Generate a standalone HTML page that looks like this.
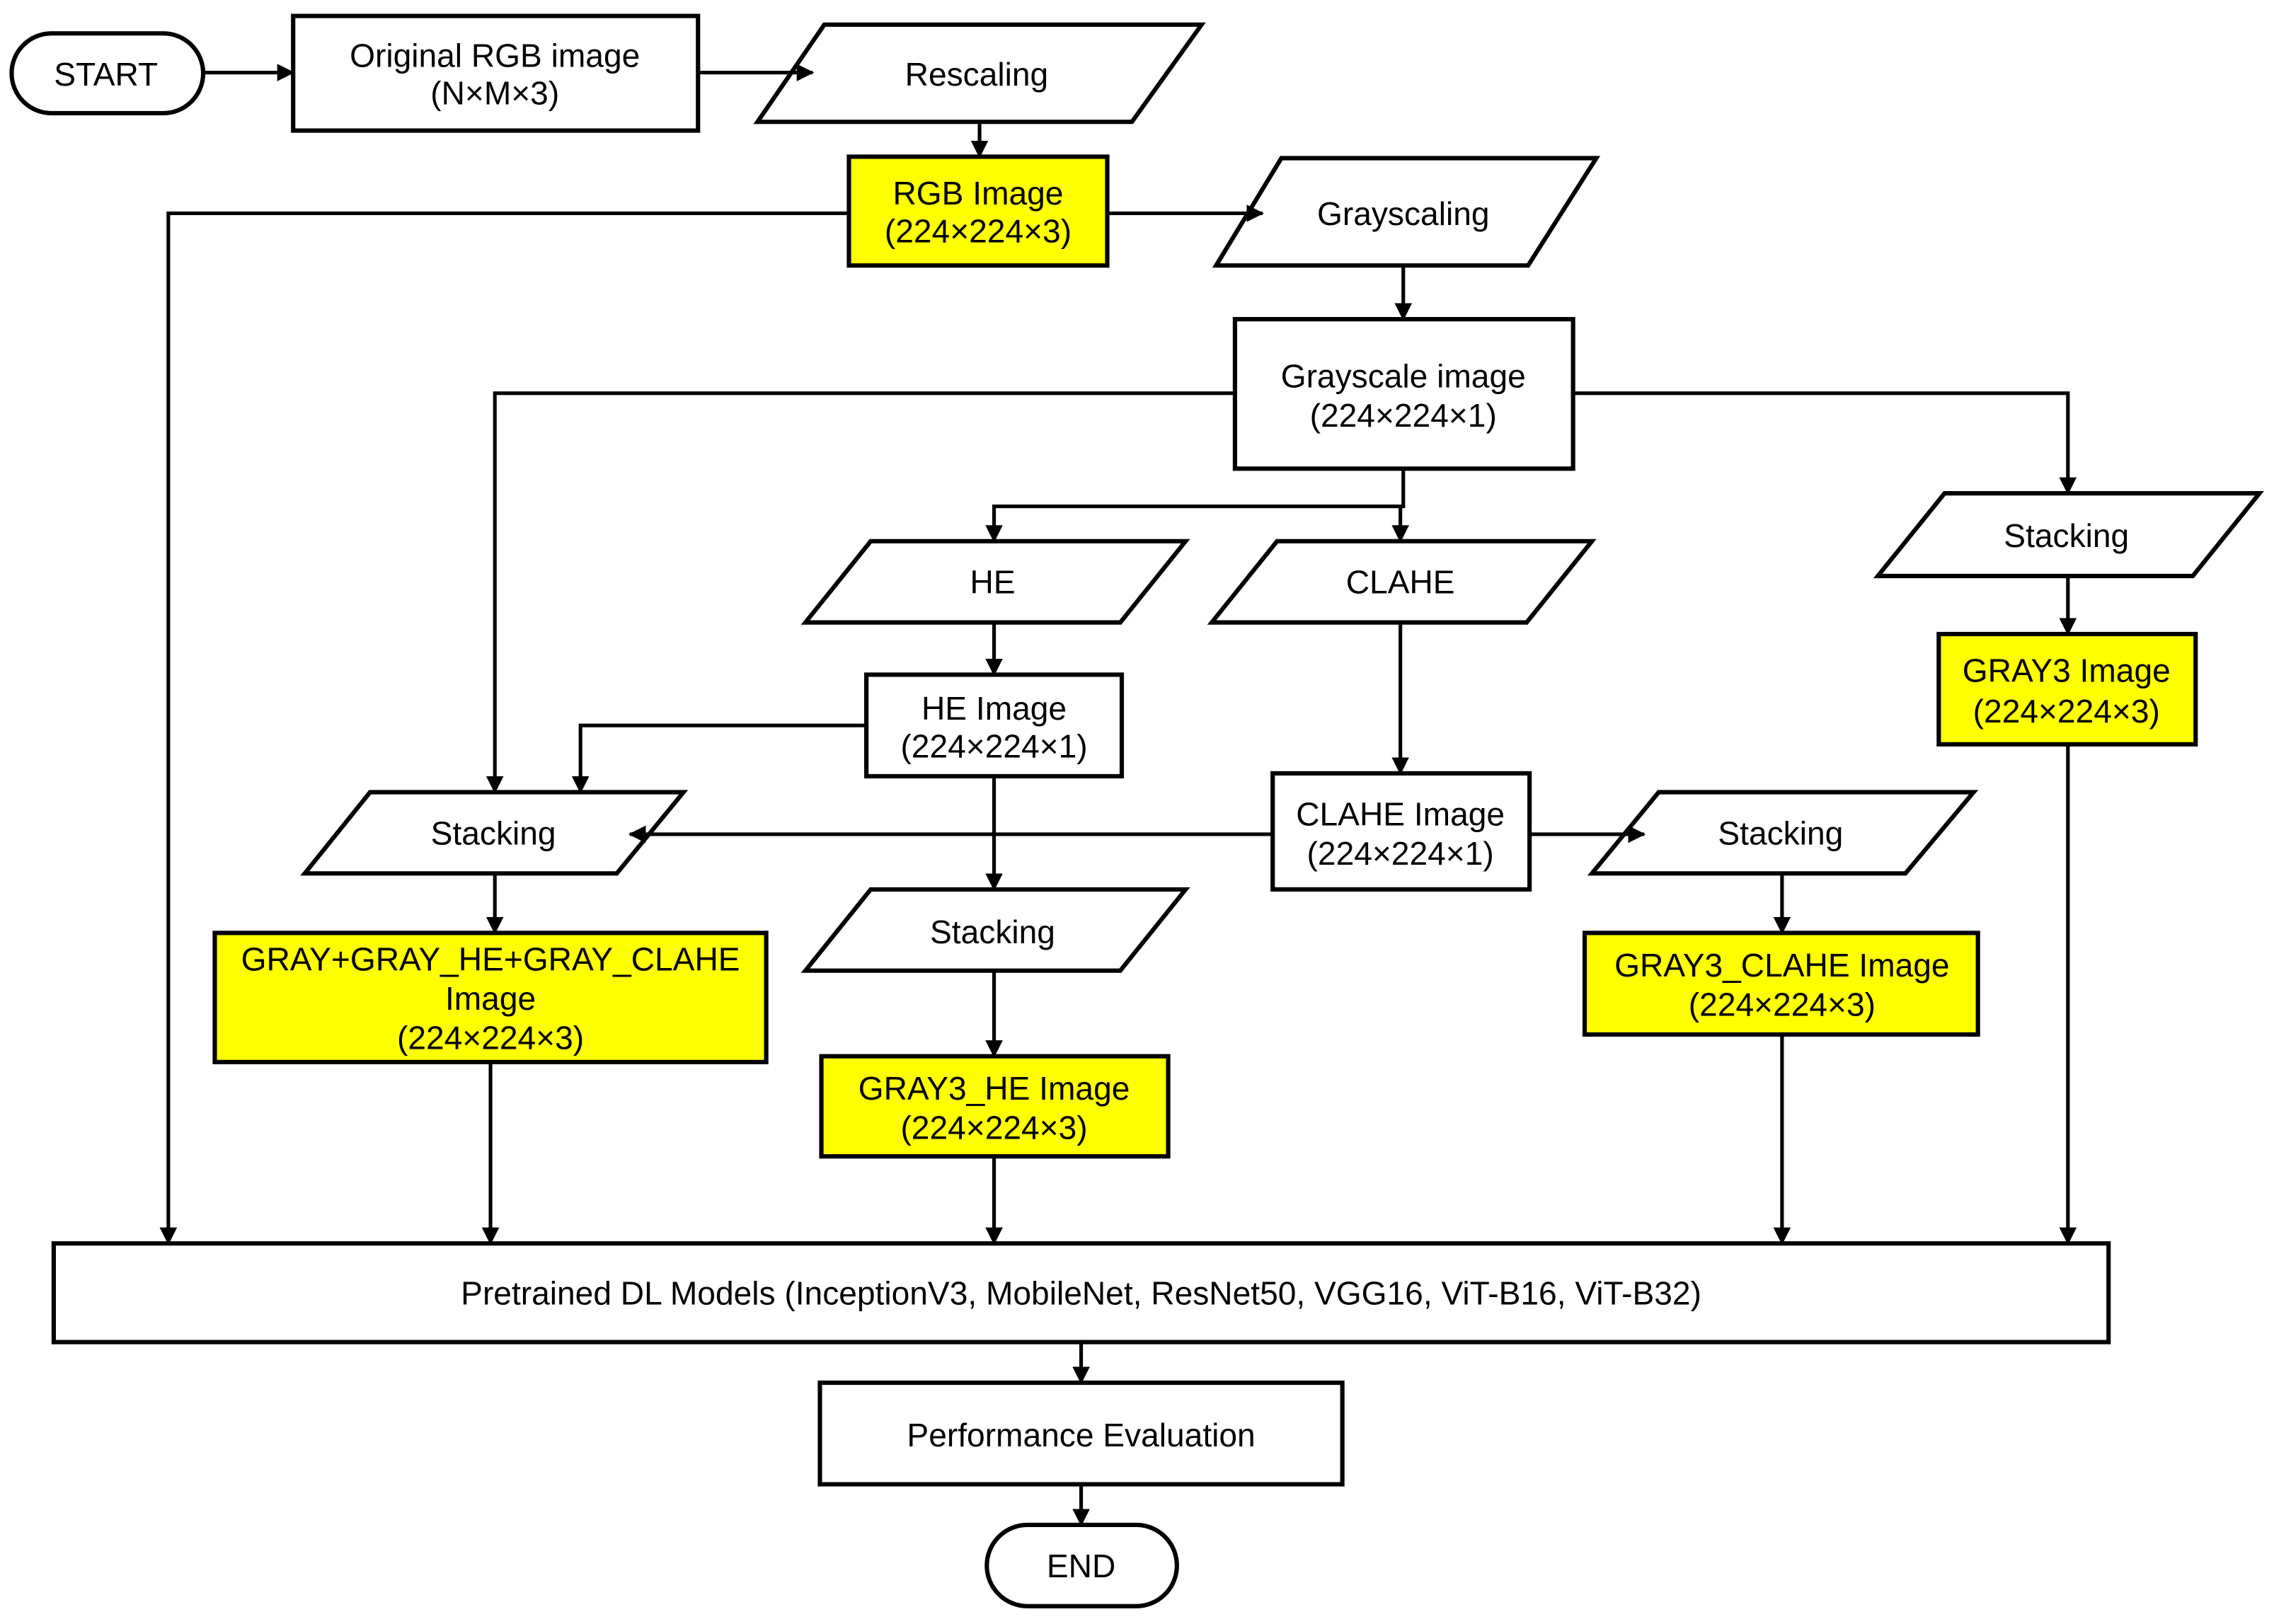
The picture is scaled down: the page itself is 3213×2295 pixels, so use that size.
<!DOCTYPE html>
<html><head><meta charset="utf-8"><style>html,body{margin:0;padding:0;background:#fff}svg{display:block}</style></head>
<body>
<svg width="3213" height="2295" viewBox="0 0 1567 1119.3" xmlns="http://www.w3.org/2000/svg">
<defs>
<marker id="a" markerWidth="12" markerHeight="12" refX="11" refY="6" orient="auto" markerUnits="userSpaceOnUse">
<path d="M0,0 L12,6 L0,12 Z" fill="#000"/></marker>
</defs>
<g fill="none" stroke="#000" stroke-width="3">
<rect x="8" y="23" width="132" height="55" rx="27.5"/>
<rect x="202" y="11" width="279" height="79"/>
<polygon points="568,17 828,17 780,84 522,84"/>
<rect x="585" y="108" width="178" height="75" fill="#ffff00"/>
<polygon points="883,109 1100,109 1053,183 838,183"/>
<rect x="851" y="220" width="233" height="103"/>
<polygon points="600,373 817,373 772,429 555,429"/>
<polygon points="880,373 1097,373 1052,429 835,429"/>
<polygon points="1340,340 1557,340 1511,397 1294,397"/>
<rect x="1336" y="437" width="177" height="76" fill="#ffff00"/>
<rect x="597" y="465" width="176" height="70"/>
<rect x="877" y="533" width="177" height="80"/>
<polygon points="255,546 471,546 425,602 210,602"/>
<rect x="148" y="643" width="380" height="89" fill="#ffff00"/>
<polygon points="600,613 817,613 772,669 555,669"/>
<rect x="566" y="728" width="239" height="69" fill="#ffff00"/>
<polygon points="1143,546 1360,546 1313,602 1097,602"/>
<rect x="1092" y="643" width="271" height="70" fill="#ffff00"/>
<rect x="37" y="857" width="1416" height="68"/>
<rect x="565" y="953" width="360" height="70"/>
<rect x="680" y="1051" width="131" height="56" rx="28"/>
</g>
<g fill="none" stroke="#000" stroke-width="2.5" marker-end="url(#a)">
<path d="M140,50 H202"/>
<path d="M481,50 H560"/>
<path d="M675,84 V108"/>
<path d="M585,147 H116 V857"/>
<path d="M763,147 H870"/>
<path d="M967,183 V220"/>
<path d="M851,271 H341 V546"/>
<path d="M1084,271 H1425 V340"/>
<path d="M967,323 V349 H685 V373"/>
<path d="M967,349 H965 V373"/>
<path d="M1425,397 V437"/>
<path d="M1425,513 V857"/>
<path d="M685,429 V465"/>
<path d="M597,500 H400 V546"/>
<path d="M685,535 V613"/>
<path d="M965,429 V533"/>
<path d="M877,575 H434"/>
<path d="M1054,575 H1133"/>
<path d="M341,602 V643"/>
<path d="M338,732 V857"/>
<path d="M685,669 V728"/>
<path d="M685,797 V857"/>
<path d="M1228,602 V643"/>
<path d="M1228,713 V857"/>
<path d="M745,925 V953"/>
<path d="M745,1023 V1051"/>
</g>
<g font-family="Liberation Sans, Arial, sans-serif" font-size="22.5" text-anchor="middle" fill="#000">
<text x="73" y="59">START</text>
<text x="341" y="46">Original RGB image</text>
<text x="341" y="72">(N×M×3)</text>
<text x="673" y="59">Rescaling</text>
<text x="674" y="141">RGB Image</text>
<text x="674" y="167">(224×224×3)</text>
<text x="967" y="155">Grayscaling</text>
<text x="967" y="267">Grayscale image</text>
<text x="967" y="294">(224×224×1)</text>
<text x="684" y="409">HE</text>
<text x="965" y="409">CLAHE</text>
<text x="1424" y="377">Stacking</text>
<text x="1424" y="470">GRAY3 Image</text>
<text x="1424" y="498">(224×224×3)</text>
<text x="685" y="496">HE Image</text>
<text x="685" y="522">(224×224×1)</text>
<text x="965" y="569">CLAHE Image</text>
<text x="965" y="596">(224×224×1)</text>
<text x="340" y="582">Stacking</text>
<text x="1227" y="582">Stacking</text>
<text x="684" y="650">Stacking</text>
<text x="338" y="669">GRAY+GRAY_HE+GRAY_CLAHE</text>
<text x="338" y="696">Image</text>
<text x="338" y="723">(224×224×3)</text>
<text x="685" y="758">GRAY3_HE Image</text>
<text x="685" y="785">(224×224×3)</text>
<text x="1228" y="673">GRAY3_CLAHE Image</text>
<text x="1228" y="700">(224×224×3)</text>
<text x="745" y="899">Pretrained DL Models (InceptionV3, MobileNet, ResNet50, VGG16, ViT-B16, ViT-B32)</text>
<text x="745" y="997">Performance Evaluation</text>
<text x="745" y="1087">END</text>
</g>
</svg>
</body></html>
